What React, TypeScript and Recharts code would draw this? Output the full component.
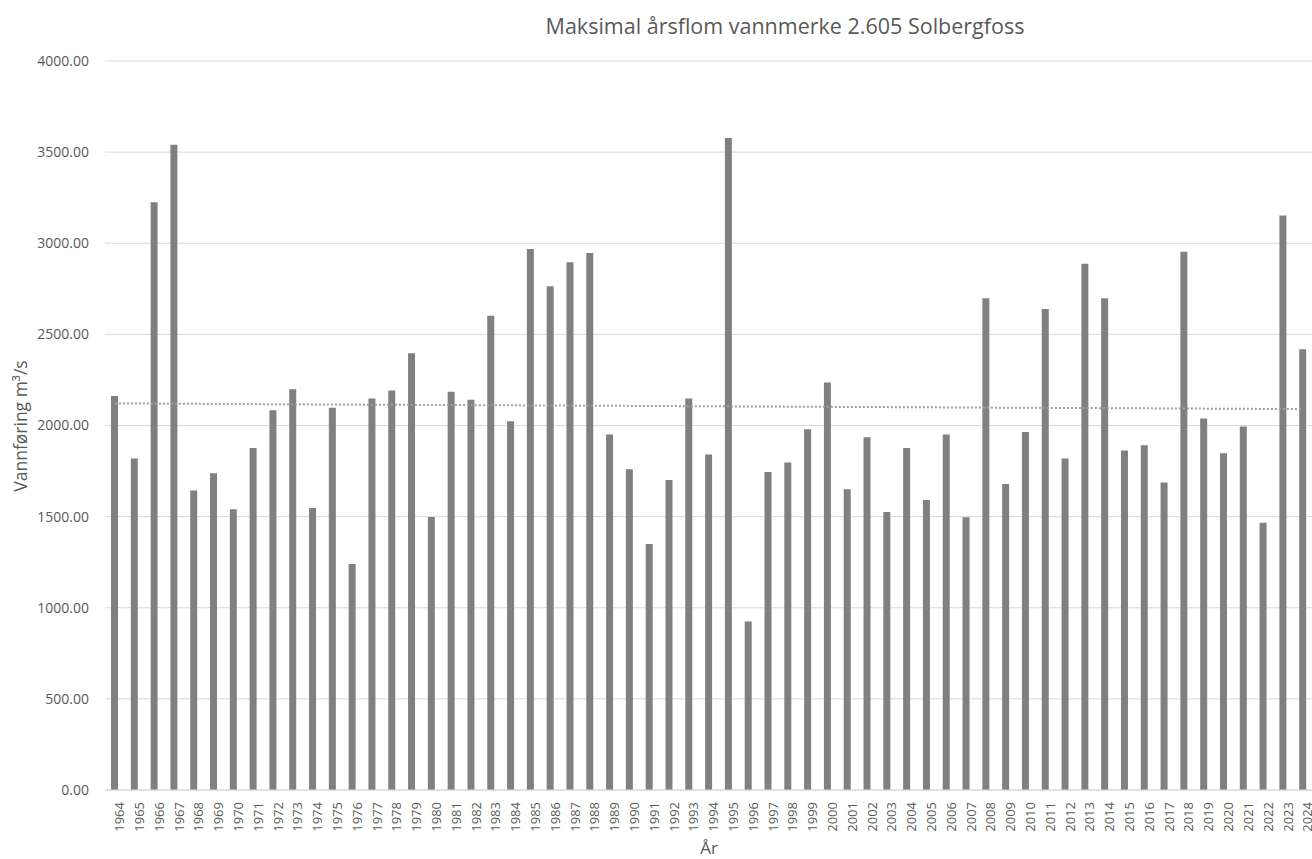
import React from 'react';
import { BarChart, Bar, XAxis, YAxis, CartesianGrid, ReferenceLine } from 'recharts';

const years: string[] = [
  '1964','1965','1966','1967','1968','1969','1970','1971','1972','1973',
  '1974','1975','1976','1977','1978','1979','1980','1981','1982','1983',
  '1984','1985','1986','1987','1988','1989','1990','1991','1992','1993',
  '1994','1995','1996','1997','1998','1999','2000','2001','2002','2003',
  '2004','2005','2006','2007','2008','2009','2010','2011','2012','2013',
  '2014','2015','2016','2017','2018','2019','2020','2021','2022','2023','2024',
];

const flows: number[] = [
  2162, 1819, 3225, 3540, 1643, 1738, 1540, 1877, 2084, 2199,
  1547, 2097, 1240, 2148, 2192, 2397, 1498, 2185, 2141, 2602,
  2024, 2969, 2764, 2896, 2947, 1951, 1760, 1350, 1701, 2148,
  1841, 3577, 925, 1745, 1797, 1980, 2236, 1650, 1936, 1525,
  1877, 1591, 1951, 1496, 2698, 1679, 1965, 2639, 1819, 2888,
  2698, 1863, 1892, 1687, 2954, 2038, 1848, 1994, 1467, 3152, 2419,
];

const yTicks: number[] = [0, 500, 1000, 1500, 2000, 2500, 3000, 3500, 4000];

// dotted linear trend line endpoints
const trendYears: string[] = ['1964', '2024'];
const trendValues: number[] = [2121, 2090];

const data = years.map((y, i) => ({ year: y, flow: flows[i] }));

const FONT = '"Open Sans", sans-serif';
const TEXT = '#595959';

export default function App() {
  return (
    <div
      style={{
        position: 'absolute',
        left: 0,
        top: 0,
        width: 1312,
        height: 859,
        overflow: 'hidden',
        background: '#ffffff',
        fontFamily: FONT,
      }}
    >
      <div
        style={{
          position: 'absolute',
          left: 785,
          top: 12,
          transform: 'translateX(-50%)',
          whiteSpace: 'nowrap',
          fontSize: 21.5,
          color: TEXT,
          lineHeight: '28px',
        }}
      >
        Maksimal årsflom vannmerke 2.605 Solbergfoss
      </div>
      <div
        style={{
          position: 'absolute',
          left: 20,
          top: 426,
          transform: 'translate(-50%, -50%) rotate(-90deg)',
          whiteSpace: 'nowrap',
          fontSize: 17.5,
          color: TEXT,
          lineHeight: '20px',
        }}
      >
        Vannføring m³/s
      </div>
      <div
        style={{
          position: 'absolute',
          left: 709,
          top: 848,
          transform: 'translate(-50%, -50%)',
          whiteSpace: 'nowrap',
          fontSize: 17,
          color: TEXT,
          lineHeight: '20px',
        }}
      >
        År
      </div>
      <div style={{ position: 'absolute', left: 0, top: 0 }}>
        <BarChart
          width={1320}
          height={859}
          data={data}
          margin={{ top: 61, right: 7, bottom: 0, left: 0 }}
        >
          <CartesianGrid vertical={false} stroke="#d9d9d9" strokeWidth={1} />
          <XAxis
            dataKey="year"
            interval={0}
            height={69}
            axisLine={{ stroke: '#d9d9d9' }}
            tickLine={false}
            tickSize={6}
            tickMargin={6}
            tick={{
              angle: -90,
              textAnchor: 'end',
              verticalAnchor: 'middle',
              fontSize: 13,
              fill: TEXT,
              fontFamily: FONT,
            }}
          />
          <YAxis
            width={105}
            domain={[0, 4000]}
            ticks={yTicks}
            interval={0}
            axisLine={false}
            tickLine={false}
            tickSize={6}
            tickMargin={10}
            tickFormatter={(v: number) => v.toFixed(2)}
            tick={{ fontSize: 14, fill: TEXT, fontFamily: FONT }}
          />
          <Bar dataKey="flow" fill="#808080" barSize={7} isAnimationActive={false} />
          <ReferenceLine
            segment={[
              { x: trendYears[0], y: trendValues[0] },
              { x: trendYears[1], y: trendValues[1] },
            ]}
            stroke="#a0a0a0"
            strokeWidth={2}
            strokeDasharray="2 2"
            ifOverflow="visible"
          />
        </BarChart>
      </div>
    </div>
  );
}
